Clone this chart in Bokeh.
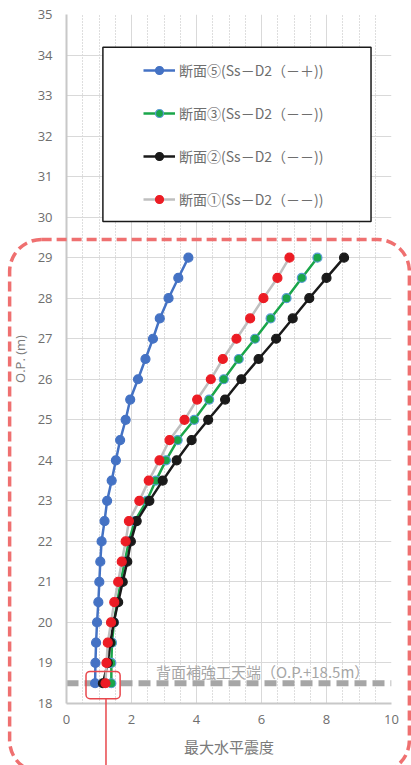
from bokeh.plotting import figure
from bokeh.models import (Range1d, FixedTicker, Span, BoxAnnotation, Legend,
                          LegendItem)
from bokeh.core.properties import value
from bokeh.embed import file_html
from bokeh.resources import INLINE

# ---- data ----
op_levels = [18.5, 19.0, 19.5, 20.0, 20.5, 21.0, 21.5, 22.0, 22.5, 23.0, 23.5,
             24.0, 24.5, 25.0, 25.5, 26.0, 26.5, 27.0, 27.5, 28.0, 28.5, 29.0]
sec5 = [0.88, 0.89, 0.91, 0.94, 0.98, 1.01, 1.04, 1.08, 1.17, 1.25, 1.39,
        1.52, 1.65, 1.82, 1.96, 2.20, 2.43, 2.66, 2.87, 3.14, 3.44, 3.75]
sec3 = [1.38, 1.38, 1.40, 1.46, 1.56, 1.67, 1.79, 1.92, 2.10, 2.47, 2.75,
        3.06, 3.42, 3.93, 4.39, 4.84, 5.30, 5.80, 6.28, 6.77, 7.24, 7.72]
sec2 = [1.12, 1.27, 1.35, 1.45, 1.59, 1.73, 1.87, 1.98, 2.16, 2.55, 2.96,
        3.39, 3.85, 4.36, 4.88, 5.38, 5.91, 6.45, 6.96, 7.47, 8.00, 8.54]
sec1 = [1.20, 1.23, 1.27, 1.37, 1.47, 1.59, 1.70, 1.82, 1.92, 2.24, 2.53,
        2.86, 3.17, 3.63, 4.02, 4.44, 4.81, 5.23, 5.65, 6.06, 6.49, 6.86]

labels = ["断面⑤(Ss－D2（－＋))", "断面③(Ss－D2（－－))",
          "断面②(Ss－D2（－－))", "断面①(Ss－D2（－－))"]
x_ticks = [0, 2, 4, 6, 8, 10]
x_minor = [0.5, 1, 1.5, 2.5, 3, 3.5, 4.5, 5, 5.5, 6.5, 7, 7.5, 8.5, 9, 9.5]
y_ticks = list(range(18, 36))
ref_level = 18.5
ref_label = "背面補強工天端（O.P.+18.5m）"
x_title = "最大水平震度"
y_title = "O.P. (m)"

JP = "Noto Sans CJK JP"
NUM = "Open Sans"

W, H = 411, 765
BL, BR, BT, BB = 66, 20, 14, 62
X0, X1, Y0, Y1 = 0, 10, 18, 35

p = figure(width=W, height=H, x_range=Range1d(X0, X1), y_range=Range1d(Y0, Y1),
           output_backend="svg", toolbar_location=None,
           min_border_left=BL, min_border_right=BR, min_border_top=BT,
           min_border_bottom=BB)
p.outline_line_color = None
p.background_fill_color = "white"
p.border_fill_color = "white"

# axes
p.xaxis.ticker = FixedTicker(ticks=x_ticks, minor_ticks=x_minor)
p.yaxis.ticker = FixedTicker(ticks=y_ticks)
for ax in (p.xaxis, p.yaxis):
    ax.axis_line_color = "#c8c8c8"
    ax.axis_line_width = 2
    ax.major_tick_line_color = None
    ax.minor_tick_line_color = None
    ax.major_tick_out = 0
    ax.major_tick_in = 0
    ax.minor_tick_out = 0
    ax.minor_tick_in = 0
    ax.major_label_text_font = NUM
    ax.major_label_text_font_size = "13px"
    ax.major_label_text_color = "#6e6e6e"
    ax.axis_label_text_color = "#7a7a7a"
    ax.axis_label_text_font_style = "normal"
p.xaxis.major_label_standoff = 11
p.yaxis.major_label_standoff = 14
p.xaxis.axis_label = x_title
p.xaxis.axis_label_text_font = JP
p.xaxis.axis_label_text_font_size = "15px"
p.xaxis.axis_label_standoff = 9
p.yaxis.axis_label = y_title
p.yaxis.axis_label_text_font = NUM
p.yaxis.axis_label_text_font_size = "13px"
p.yaxis.axis_label_standoff = 6

# grids
p.xgrid.ticker = FixedTicker(ticks=x_ticks, minor_ticks=x_minor)
p.xgrid.grid_line_color = "#d9d9d9"
p.xgrid.minor_grid_line_color = "#bdbdbd"
p.xgrid.minor_grid_line_dash = "1 2"
p.ygrid.ticker = FixedTicker(ticks=y_ticks)
p.ygrid.grid_line_color = "#d9d9d9"

# reference line
ref = Span(location=ref_level, dimension="width", line_color="#a6a6a6",
           line_width=6, line_dash="12 6", level="underlay")
p.add_layout(ref)
p.text(x=[2.75], y=[18.8], text=[ref_label], text_font=value(JP),
       text_font_size="15px", text_color="#a6a6a6", text_baseline="middle",
       text_align="left")

# series
styles = [
    (sec5, "#4472c4", "#4472c4", "#4472c4"),
    (sec3, "#1aa64a", "#1aa64a", "#5b9bd5"),
    (sec2, "#1a1a1a", "#1a1a1a", "#1a1a1a"),
    (sec1, "#bfbfbf", "#ec1c24", "#ec1c24"),
]
items = []
for (vals, lc, fc, mc), lab in zip(styles, labels):
    rl = p.line(vals, op_levels, line_color=lc, line_width=2.5)
    rs = p.scatter(vals, op_levels, size=9, fill_color=fc, line_color=mc,
                   line_width=1.2)
    items.append(LegendItem(label=lab, renderers=[rl, rs]))

# legend box
box = BoxAnnotation(left=1.12, right=9.37, top=34.19, bottom=29.89,
                    fill_color="white", fill_alpha=1.0, line_color="#1a1a1a",
                    line_alpha=1.0, line_width=1.5)
p.add_layout(box)
legend = Legend(items=items, location=(77, 494), padding=0, margin=0,
                spacing=23, glyph_width=32, glyph_height=20, label_height=20,
                label_standoff=4, background_fill_alpha=0.0,
                border_line_alpha=0.0, label_text_font=JP,
                label_text_font_size="14px", label_text_color="#6e6e6e")
p.add_layout(legend, "center")

# ---- overlay for the red highlight marks (same data mapping, whole canvas) ----
sx = (X1 - X0) / (W - BL - BR)
sy = (Y1 - Y0) / (H - BT - BB)
d = figure(width=W, height=H, output_backend="svg", toolbar_location=None,
           x_range=Range1d(X0 - BL * sx, X1 + BR * sx),
           y_range=Range1d(Y0 - BB * sy, Y1 + BT * sy),
           x_axis_type=None, y_axis_type=None, title=None, min_border=0,
           styles={"margin-top": f"-{H}px"})
d.outline_line_color = None
d.background_fill_color = None
d.border_fill_color = None

big = BoxAnnotation(left=-1.75, right=10.55, top=29.45, bottom=16.3,
                    fill_alpha=0.0, line_color="#ef7070", line_alpha=1.0,
                    line_width=3.5, line_dash="10 5", border_radius=32)
d.add_layout(big)
small = BoxAnnotation(left=0.6, right=1.65, top=18.79, bottom=18.12,
                      fill_alpha=0.0, line_color="#e8474c", line_alpha=1.0,
                      line_width=1.5, border_radius=4)
d.add_layout(small)
d.segment(x0=[1.215], y0=[18.12], x1=[1.215], y1=[16.3],
          line_color="#e8474c", line_width=1.5)

open("out.html", "w").write(file_html([p, d], INLINE))
